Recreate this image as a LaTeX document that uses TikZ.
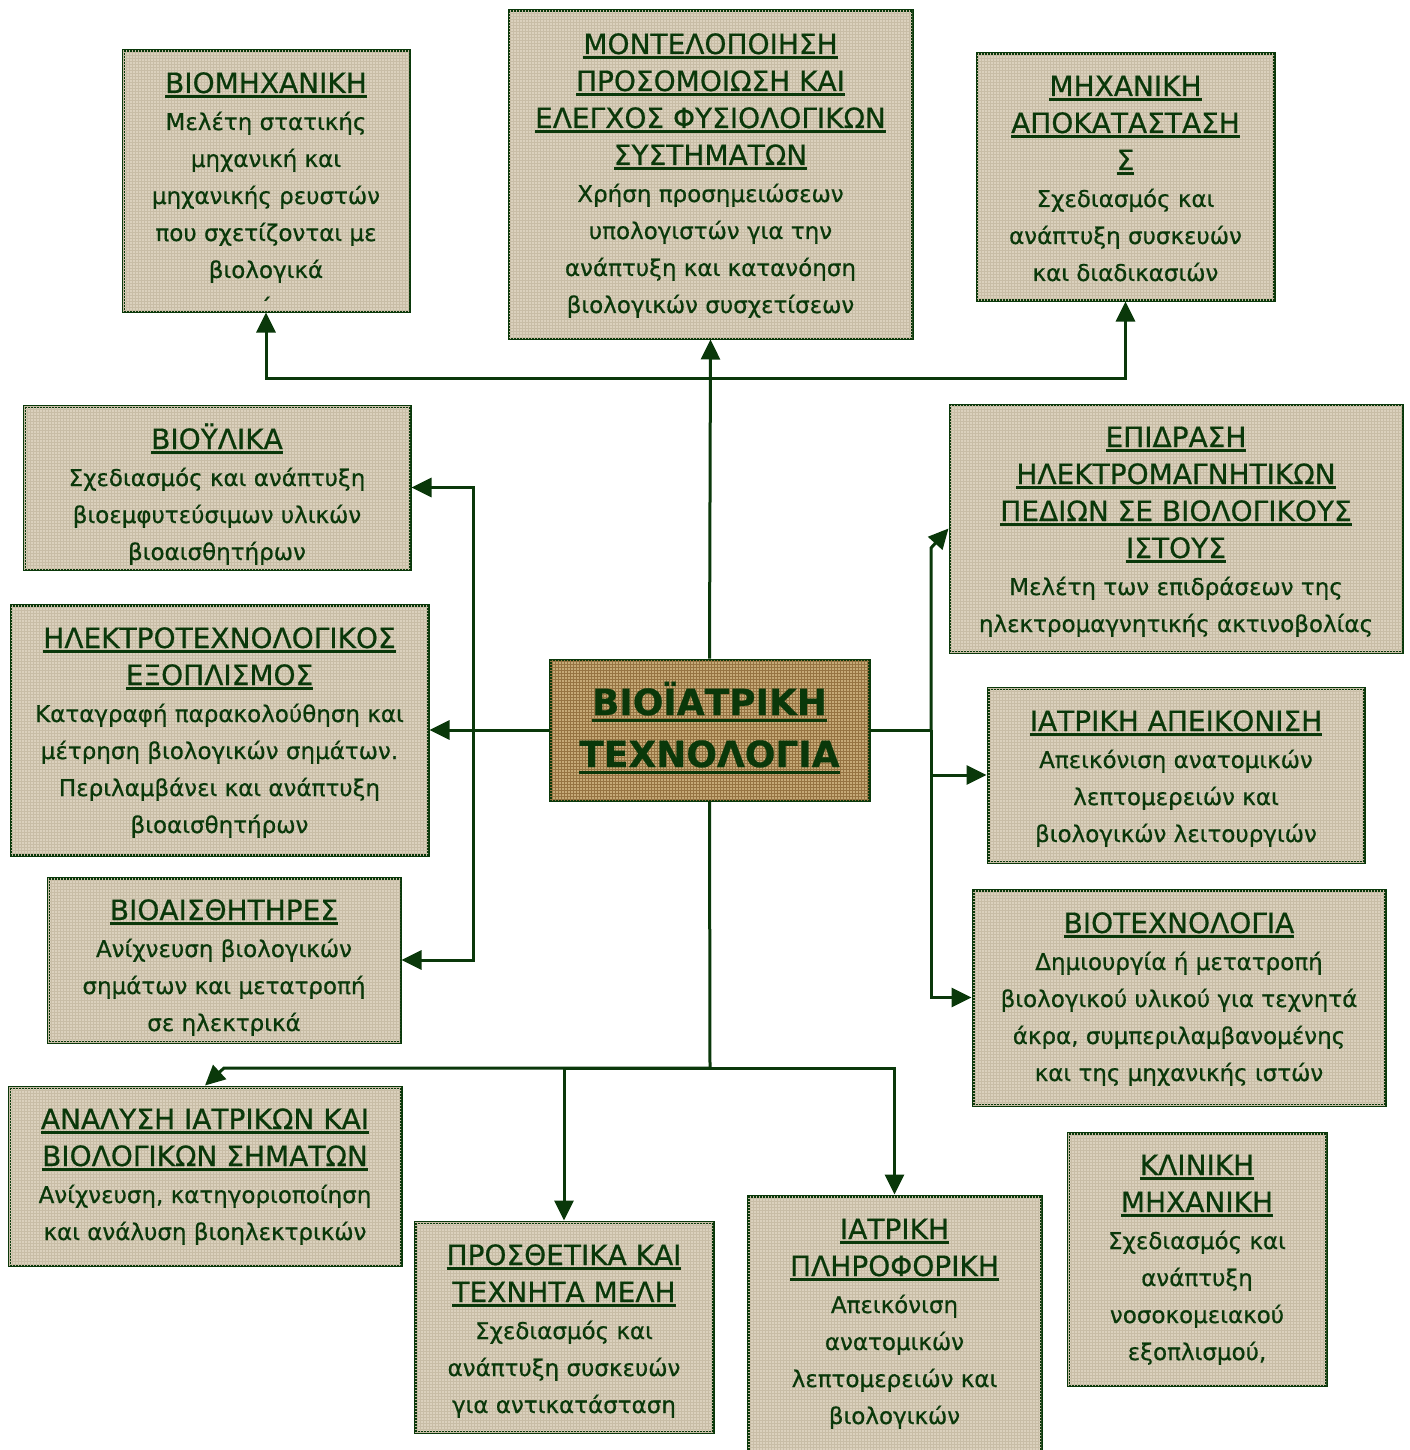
\documentclass[tikz,border=0pt]{standalone}
\usepackage{fontspec}
\setmainfont{DejaVu Sans}[FakeBold=0.6]
\usetikzlibrary{arrows.meta,patterns}

\definecolor{dg}{RGB}{10,56,10}
\definecolor{paper}{RGB}{219,209,189}
\definecolor{paperdk}{RGB}{200,189,166}
\definecolor{burlap}{RGB}{198,170,120}
\definecolor{weave}{RGB}{150,116,66}

\newsavebox\ulbox
% underlined heading line
\newcommand\ttl[1]{\leavevmode\sbox\ulbox{\fontsize{28}{37}\selectfont #1}\rlap{\rule[-5pt]{\wd\ulbox}{2.8pt}}\usebox\ulbox}
% underlined bold heading of the central box
\newcommand\cttl[1]{\leavevmode\sbox\ulbox{\fontsize{36}{52}\selectfont\bfseries #1}\rlap{\rule[-7pt]{\wd\ulbox}{3.5pt}}\usebox\ulbox}
\newcommand\bodyfont{\fontsize{23}{37}\selectfont}

\tikzset{
  card/.style={draw=dg, line width=3pt, fill=paper, inner sep=0pt,
    postaction={pattern=grid, pattern color=paperdk}},
  corecard/.style={draw=dg, line width=3pt, fill=burlap, inner sep=0pt,
    postaction={pattern=grid, pattern color=weave}},
  txt/.style={anchor=base, inner sep=0pt, text=dg},
  link/.style={draw=dg, line width=3pt},
  conn/.style={link, -{Triangle[length=20pt,width=19pt]}},
}

% box: name, x1, y1, x2, y2, first baseline, lines
\newcommand\card[7]{%
  \node[card, minimum width={(#4)-(#2)}, minimum height={(#5)-(#3)}]
    (#1) at ({((#2)+(#4))/2},{((#3)+(#5))/2}) {};
  \begin{scope}
    \clip ([shift={(1.5,1.5)}]#1.north west) rectangle ([shift={(-1.5,-1.5)}]#1.south east);
    \node[txt] (#1-t) at ({((#2)+(#4))/2},#6) {\parbox[t]{600pt}{\centering\bodyfont #7}};
  \end{scope}}

\begin{document}
\begin{tikzpicture}[x=1pt,y=-1pt]
\useasboundingbox (0,0) rectangle (1409,1450);
\clip (0,0) rectangle (1409,1450);

\coordinate (topbar) at (710,378);
\coordinate (lj) at (473,730);
\coordinate (rj) at (931,730);
\coordinate (bj) at (710,1068);

% central box
\node[corecard, minimum width=319, minimum height=140] (core) at (709.5,730) {};
\node[txt] (core-t) at (709.5,715) {\parbox[t]{600pt}{\centering\fontsize{36}{52}\selectfont
  \cttl{ΒΙΟΪΑΤΡΙΚΗ}\\\cttl{ΤΕΧΝΟΛΟΓΙΑ}}};

\card{bm}{123}{51}{409}{311}{93}{\ttl{ΒΙΟΜΗΧΑΝΙΚΗ}\\ Μελέτη στατικής\\ μηχανική και\\ μηχανικής ρευστών\\ που σχετίζονται με\\ βιολογικά\\ ΄}
\card{mdl}{509}{11}{912}{338}{54}{\ttl{ΜΟΝΤΕΛΟΠΟΙΗΣΗ}\\ \ttl{ΠΡΟΣΟΜΟΙΩΣΗ ΚΑΙ}\\ \ttl{ΕΛΕΓΧΟΣ ΦΥΣΙΟΛΟΓΙΚΩΝ}\\ \ttl{ΣΥΣΤΗΜΑΤΩΝ}\\ Χρήση προσημειώσεων\\ υπολογιστών για την\\ ανάπτυξη και κατανόηση\\ βιολογικών συσχετίσεων}
\card{reh}{977}{54}{1274}{300}{96}{\ttl{ΜΗΧΑΝΙΚΗ}\\ \ttl{ΑΠΟΚΑΤΑΣΤΑΣΗ}\\ \ttl{Σ}\\ Σχεδιασμός και\\ ανάπτυξη συσκευών\\ και διαδικασιών}
\card{bio}{24}{406}{410}{569}{449}{\ttl{ΒΙΟΫΛΙΚΑ}\\ Σχεδιασμός και ανάπτυξη\\ βιοεμφυτεύσιμων υλικών\\ βιοαισθητήρων}
\card{ee}{11}{605}{428}{855}{648}{\ttl{ΗΛΕΚΤΡΟΤΕΧΝΟΛΟΓΙΚΟΣ}\\ \ttl{ΕΞΟΠΛΙΣΜΟΣ}\\ Καταγραφή παρακολούθηση και\\ μέτρηση βιολογικών σημάτων.\\ Περιλαμβάνει και ανάπτυξη\\ βιοαισθητήρων}
\card{sens}{48}{878}{400}{1042}{920}{\ttl{ΒΙΟΑΙΣΘΗΤΗΡΕΣ}\\ Ανίχνευση βιολογικών\\ σημάτων και μετατροπή\\ σε ηλεκτρικά}
\card{ana}{9}{1087}{401}{1265}{1129}{\ttl{ΑΝΑΛΥΣΗ ΙΑΤΡΙΚΩΝ ΚΑΙ}\\ \ttl{ΒΙΟΛΟΓΙΚΩΝ ΣΗΜΑΤΩΝ}\\ Ανίχνευση, κατηγοριοποίηση\\ και ανάλυση βιοηλεκτρικών}
\card{pros}{415}{1222}{713}{1432}{1265}{\ttl{ΠΡΟΣΘΕΤΙΚΑ ΚΑΙ}\\ \ttl{ΤΕΧΝΗΤΑ ΜΕΛΗ}\\ Σχεδιασμός και\\ ανάπτυξη συσκευών\\ για αντικατάσταση}
\card{inf}{748}{1196}{1041}{1475}{1239}{\ttl{ΙΑΤΡΙΚΗ}\\ \ttl{ΠΛΗΡΟΦΟΡΙΚΗ}\\ Απεικόνιση\\ ανατομικών\\ λεπτομερειών και\\ βιολογικών}
\card{clin}{1068}{1133}{1326}{1385}{1175}{\ttl{ΚΛΙΝΙΚΗ}\\ \ttl{ΜΗΧΑΝΙΚΗ}\\ Σχεδιασμός και\\ ανάπτυξη\\ νοσοκομειακού\\ εξοπλισμού,}
\card{emf}{950}{405}{1402}{652}{447}{\ttl{ΕΠΙΔΡΑΣΗ}\\ \ttl{ΗΛΕΚΤΡΟΜΑΓΝΗΤΙΚΩΝ}\\ \ttl{ΠΕΔΙΩΝ ΣΕ ΒΙΟΛΟΓΙΚΟΥΣ}\\ \ttl{ΙΣΤΟΥΣ}\\ Μελέτη των επιδράσεων της\\ ηλεκτρομαγνητικής ακτινοβολίας}
\card{img}{988}{688}{1364}{862}{731}{\ttl{ΙΑΤΡΙΚΗ ΑΠΕΙΚΟΝΙΣΗ}\\ Απεικόνιση ανατομικών\\ λεπτομερειών και\\ βιολογικών λειτουργιών}
\card{btech}{973}{890}{1385}{1105}{933}{\ttl{ΒΙΟΤΕΧΝΟΛΟΓΙΑ}\\ Δημιουργία ή μετατροπή\\ βιολογικού υλικού για τεχνητά\\ άκρα, συμπεριλαμβανομένης\\ και της μηχανικής ιστών}

% upward branch
\draw[conn] (core.north) -- (mdl.south);
\draw[conn] (topbar) -| (bm.south);
\draw[conn] (topbar) -| (reh.south);

% left branch
\draw[conn] (core.west) -- (ee.east);
\draw[conn] (lj) |- (bio.east);
\draw[conn] (lj) |- (sens.east);

% right branch
\draw[link] (core.east) -- (rj);
\draw[conn] (rj) -- (931,548) -- (emf.west);
\draw[conn] (rj) |- (img.west);
\draw[conn] (rj) |- (btech.west);

% downward branch
\draw[link] (core.south) -- (bj);
\draw[conn] (bj) -- (224,1068) -- (ana.north);
\draw[conn] (bj) -| (pros.north);
\draw[conn] (bj) -| (inf.north);
\end{tikzpicture}
\end{document}
